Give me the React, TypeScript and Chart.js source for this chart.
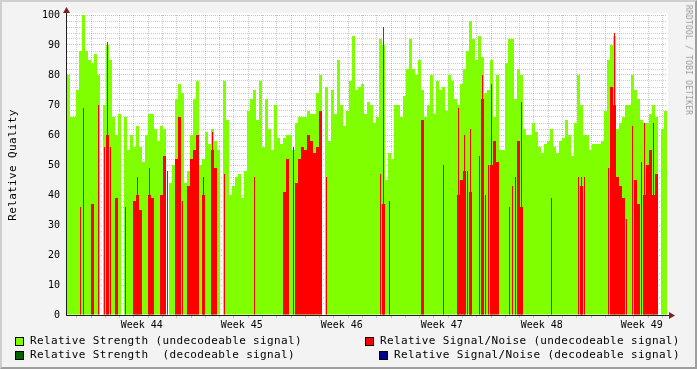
import React, { useEffect, useRef } from 'react';
import { Chart, registerables } from 'chart.js';

Chart.register(...registerables);

// ---- data (one bin = 1/200 of the six-week window) ----
const binLabels: string[] = Array.from({ length: 200 }, (_, i) => String(i));

const strengthUndecodeable: (number | null)[] = [
  80, 66, 66, 75, 88, 100, 88, 85, 84, 87,
  80, null, 70, 90, 85, 66, 60, 67, null, 66,
  55, 60, 56, 63, 56, 51, 60, 67, 67, 62,
  58, 63, 62, null, 44, 50, 72, 77, 74, 44,
  48, 60, 72, 78, 50, 52, 61, 57, 62, 58,
  55, null, 78, 65, 40, 43, 46, 47, 39, 48,
  68, 72, 75, 65, 78, 56, 72, 62, 55, 70,
  59, 57, 59, 60, 60, 55, 64, 66, 66, 66,
  68, 67, 67, 74, 80, null, 76, 58, 75, 67,
  85, 70, 63, 68, 78, 93, 75, 76, 77, 67,
  71, 70, 64, 66, 92, 90, 45, 54, 52, 70,
  70, 66, 73, 82, 92, 82, 80, 85, 75, 66,
  70, 80, 67, 78, 75, 76, 68, 80, 78, 72,
  70, 77, 82, 88, 98, 92, 85, 93, 86, 74,
  75, 85, 66, 80, 55, 55, 84, 92, 92, 72,
  82, 80, 62, 60, 60, 64, 61, 56, 54, 57,
  58, 62, 56, 54, 58, 59, 65, 60, 53, 64,
  80, 70, 60, 60, 55, 57, 57, 57, 58, 68,
  85, 90, 93, 62, 64, 66, 70, 70, 80, 75,
  72, 65, 64, 64, 67, 70, 66, null, 62, 68,
];

// wide (full-bin) S/N values
const snrUndecodeable: (number | null)[] = [
  null, null, null, null, null, null, null, null, 37, null,
  null, null, null, 60, null, null, 39, null, null, null,
  null, null, 38, 40, 35, null, null, 40, 39, null,
  null, 40, 53, null, null, null, 52, 66, null, null,
  43, 52, 55, 60, null, 40, null, null, 55, 49,
  null, null, null, null, null, null, null, null, null, null,
  null, null, null, null, null, null, null, null, null, null,
  null, null, 41, 52, null, null, 44, 52, 56, 55,
  60, 58, 54, 56, 68, null, null, null, null, null,
  null, null, null, null, null, null, null, null, null, null,
  null, null, null, null, null, 37, null, null, null, null,
  null, null, null, null, null, null, null, null, 65, null,
  null, null, null, null, null, null, null, null, null, null,
  40, 45, 48, null, 41, null, null, null, 72, null,
  null, 50, 58, 51, null, null, null, null, null, null,
  58, 36, null, null, null, null, null, null, null, null,
  null, null, null, null, null, null, null, null, null, null,
  null, 43, null, null, null, null, null, null, null, null,
  null, 76, 70, 46, 43, 39, null, null, null, 45,
  37, null, 40, 50, 55, 40, 47, null, null, null,
];

// one-pixel S/N spikes
const snrUndecodeableSpikes: (number | null)[] = [
  null, null, null, null, 36, 69, null, null, null, null,
  70, null, 56, 91, 56, null, null, null, null, 36,
  null, null, null, 46, null, null, null, 49, null, null,
  null, null, null, 48, null, null, null, null, 38, null,
  null, null, null, null, null, 46, null, null, 61, null,
  null, null, 47, null, null, null, null, null, null, null,
  null, null, 46, null, null, null, null, null, null, null,
  null, null, null, null, null, 56, null, null, null, null,
  null, null, null, null, null, null, 46, null, null, null,
  null, null, null, null, null, null, null, null, null, null,
  null, null, null, null, 47, 96, null, 38, null, null,
  null, null, null, null, null, null, null, null, null, null,
  null, null, null, null, null, 50, null, null, null, null,
  69, null, 60, 48, 62, null, null, 53, 80, 40,
  50, 77, null, null, null, null, null, 36, 43, 46,
  null, 71, null, null, null, null, null, null, null, null,
  null, 39, null, null, null, null, null, null, null, null,
  46, 46, 46, null, null, null, null, null, null, null,
  49, null, 94, null, null, null, 32, null, 63, null,
  null, 51, 64, null, null, 64, null, null, null, null,
];

const yLabelValues: number[] = [0, 10, 20, 30, 40, 50, 60, 70, 80, 90, 100];
const weekLabels: string[] = ['Week 44', 'Week 45', 'Week 46', 'Week 47', 'Week 48', 'Week 49'];
const daysShown = 42;
const firstWeekStart = 1.68; // days from the left edge to the first Monday

// ---- styling ----
const GREEN = '#7FFF00';
const RED = '#FF0000';
const DARK_GREEN = '#006400';
const NAVY = '#00008B';
const MINOR = 'rgba(143,143,143,0.45)';
const MAJOR = 'rgba(222,79,79,0.45)';
const MONO = "'DejaVu Sans Mono', monospace";

const isMajorDay = (v: number) => {
  const r = (((v - firstWeekStart) % 7) + 7) % 7;
  return r < 0.01 || r > 6.99;
};

const framePlugin = {
  id: 'rrdFrame',
  beforeDraw(chart: any) {
    const { ctx, chartArea: a } = chart;
    ctx.save();
    ctx.fillStyle = '#FFFFFF';
    ctx.fillRect(a.left, a.top - 2, a.right - a.left + 1, a.bottom - a.top + 2);
    ctx.restore();
  },
  afterDraw(chart: any) {
    const { ctx, chartArea: a } = chart;
    ctx.save();
    ctx.strokeStyle = '#1F1F1F';
    ctx.lineWidth = 1;
    ctx.beginPath();
    ctx.moveTo(a.left - 1, a.bottom + 0.5);
    ctx.lineTo(a.right + 5, a.bottom + 0.5);
    ctx.moveTo(a.left - 0.5, a.bottom + 1);
    ctx.lineTo(a.left - 0.5, a.top - 4);
    ctx.stroke();
    ctx.fillStyle = '#801F1F';
    ctx.beginPath();
    ctx.moveTo(a.right + 2, a.bottom - 3);
    ctx.lineTo(a.right + 8, a.bottom + 0.5);
    ctx.lineTo(a.right + 2, a.bottom + 4);
    ctx.closePath();
    ctx.fill();
    ctx.beginPath();
    ctx.moveTo(a.left - 4, a.top - 2);
    ctx.lineTo(a.left - 0.5, a.top - 8);
    ctx.lineTo(a.left + 3, a.top - 2);
    ctx.closePath();
    ctx.fill();
    ctx.restore();
  },
};

export default function App() {
  const canvasRef = useRef<HTMLCanvasElement>(null);

  useEffect(() => {
    document.body.style.margin = '0';
    const canvas = canvasRef.current;
    if (!canvas) return;

    const barCommon = {
      barPercentage: 1,
      categoryPercentage: 1,
      grouped: false,
      borderWidth: 0,
      inflateAmount: 0,
      xAxisID: 'x',
      yAxisID: 'y',
    };

    const chart = new Chart(canvas, {
      type: 'bar',
      data: {
        labels: binLabels,
        datasets: [
          {
            ...barCommon,
            label: 'Relative Signal/Noise (undecodeable signal)',
            data: snrUndecodeableSpikes,
            backgroundColor: RED,
            barPercentage: 1 / 3,
            order: 0,
          },
          {
            ...barCommon,
            label: 'Relative Signal/Noise (undecodeable signal)',
            data: snrUndecodeable,
            backgroundColor: RED,
            order: 1,
          },
          {
            ...barCommon,
            label: 'Relative Strength (undecodeable signal)',
            data: strengthUndecodeable,
            backgroundColor: GREEN,
            order: 2,
          },
        ],
      },
      options: {
        responsive: false,
        animation: false,
        devicePixelRatio: 1,
        events: [],
        layout: { padding: { left: 0, right: 30, top: 15, bottom: 0 } },
        plugins: { legend: { display: false }, tooltip: { enabled: false } },
        scales: {
          x: { type: 'category', display: false, offset: true },
          xg: {
            type: 'linear',
            position: 'bottom',
            min: 0,
            max: daysShown,
            offset: false,
            bounds: 'data',
            weight: 0,
            z: 1,
            afterBuildTicks: (s: any) => {
              const t: any[] = [];
              for (let v = firstWeekStart - 1; v < daysShown; v += 1) t.push({ value: v });
              s.ticks = t;
            },
            afterFit: (s: any) => {
              s.height = 0;
            },
            ticks: { display: false, autoSkip: false },
            grid: {
              offset: false,
              drawTicks: true,
              tickLength: 3,
              color: (c: any) => (c.tick && isMajorDay(c.tick.value) ? MAJOR : MINOR),
              tickColor: (c: any) => (c.tick && isMajorDay(c.tick.value) ? MAJOR : MINOR),
            },
            border: { display: false, dash: [1, 1] },
          },
          xl: {
            type: 'linear',
            position: 'bottom',
            min: 0,
            max: daysShown,
            offset: false,
            bounds: 'data',
            weight: 1,
            afterBuildTicks: (s: any) => {
              s.ticks = weekLabels.map((_, i) => ({ value: firstWeekStart + 3.55 + 7 * i }));
            },
            afterFit: (s: any) => {
              s.height = 54;
            },
            grid: { display: false, drawTicks: false, offset: false },
            border: { display: false },
            ticks: {
              autoSkip: false,
              maxRotation: 0,
              padding: 4,
              color: '#000',
              font: { family: MONO, size: 10 },
              callback: (_v: any, i: number) => weekLabels[i],
            },
          },
          y: {
            type: 'linear',
            position: 'left',
            min: 0,
            max: 100,
            z: 1,
            afterBuildTicks: (s: any) => {
              const t: any[] = [];
              for (let v = 0; v <= 100; v += 2) t.push({ value: v });
              s.ticks = t;
            },
            afterFit: (s: any) => {
              s.width = 67;
            },
            grid: {
              drawTicks: false,
              color: (c: any) => (c.tick && c.tick.value % 10 === 0 ? MAJOR : MINOR),
            },
            border: { display: false, dash: [1, 1] },
            ticks: {
              autoSkip: false,
              padding: 7,
              color: '#000',
              font: { family: MONO, size: 10 },
              callback: (v: any) => (yLabelValues.includes(Number(v)) ? String(v) : ''),
            },
          },
        },
      },
      plugins: [framePlugin],
    } as any);

    return () => chart.destroy();
  }, []);

  const legendText: React.CSSProperties = {
    position: 'absolute',
    fontFamily: MONO,
    fontSize: 11,
    lineHeight: '11px',
    letterSpacing: '0.35px',
    whiteSpace: 'pre',
    color: '#000',
  };
  const box = (left: number, top: number, color: string): React.CSSProperties => ({
    position: 'absolute',
    left,
    top,
    width: 7,
    height: 7,
    background: color,
    border: '1px solid #000',
  });

  return (
    <div
      style={{
        position: 'relative',
        width: 697,
        height: 369,
        background: '#F3F3F3',
        overflow: 'hidden',
      }}
    >
      <canvas
        ref={canvasRef}
        width={697}
        height={369}
        style={{ position: 'absolute', left: 0, top: 0, width: 697, height: 369 }}
      />
      <div
        style={{
          ...legendText,
          left: 12,
          top: 165,
          transform: 'translate(-50%, -50%) rotate(-90deg)',
        }}
      >
        Relative Quality
      </div>
      <div
        style={{
          position: 'absolute',
          left: 688,
          top: 60,
          transform: 'translate(-50%, -50%) rotate(90deg)',
          fontFamily: MONO,
          fontSize: 8,
          lineHeight: '8px',
          letterSpacing: '0.2px',
          whiteSpace: 'pre',
          color: '#9A9A9A',
        }}
      >
        RRDTOOL / TOBI OETIKER
      </div>

      <div style={box(15, 337, GREEN)} />
      <div style={{ ...legendText, left: 30, top: 335 }}>Relative Strength (undecodeable signal)</div>
      <div style={box(365, 337, RED)} />
      <div style={{ ...legendText, left: 380, top: 335 }}>Relative Signal/Noise (undecodeable signal)</div>

      <div style={box(15, 351, DARK_GREEN)} />
      <div style={{ ...legendText, left: 30, top: 349 }}>Relative Strength  (decodeable signal)</div>
      <div style={box(379, 351, NAVY)} />
      <div style={{ ...legendText, left: 394, top: 349 }}>Relative Signal/Noise (decodeable signal)</div>

      <div
        style={{
          position: 'absolute',
          left: 0,
          top: 0,
          width: 697,
          height: 369,
          boxSizing: 'border-box',
          borderTop: '2px solid #CFCFCF',
          borderLeft: '2px solid #CFCFCF',
          borderRight: '2px solid #9E9E9E',
          borderBottom: '2px solid #9E9E9E',
          pointerEvents: 'none',
        }}
      />
    </div>
  );
}
